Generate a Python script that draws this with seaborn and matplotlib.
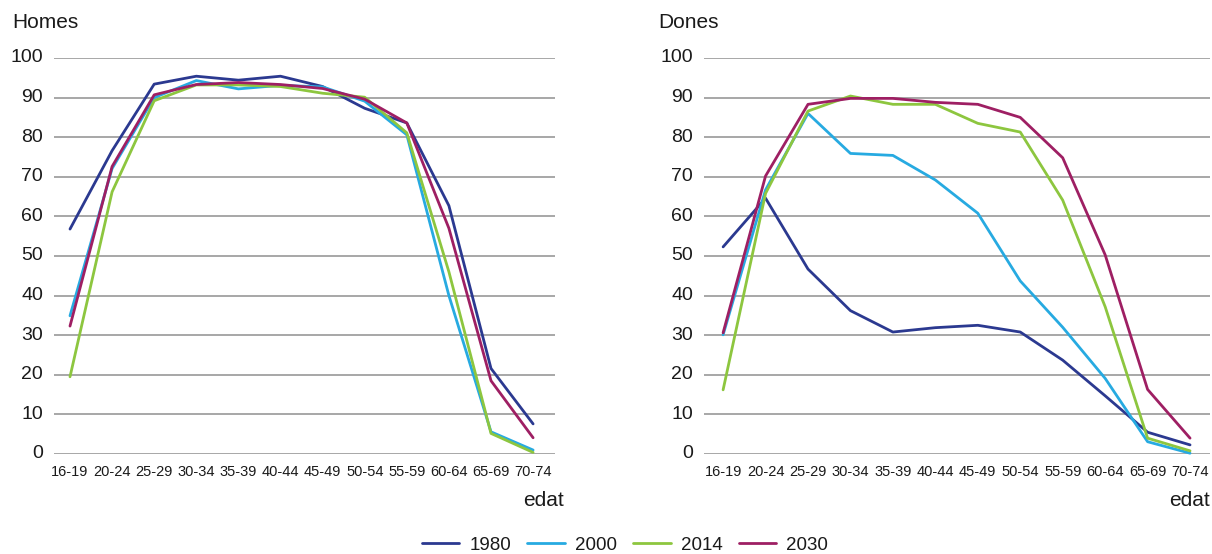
import pandas as pd
import numpy as np
import matplotlib
matplotlib.use('Agg')
import matplotlib.pyplot as plt
import seaborn as sns
from matplotlib.lines import Line2D
from matplotlib.transforms import ScaledTranslation

# ===================== 数据 =====================
edats = ['16-19', '20-24', '25-29', '30-34', '35-39', '40-44',
         '45-49', '50-54', '55-59', '60-64', '65-69', '70-74']
anys = ['1980', '2000', '2014', '2030']

homes_1980 = [56.8, 76.6, 93.4, 95.4, 94.4, 95.4, 92.8, 87.3, 83.6, 62.7, 21.6, 7.6]
homes_2000 = [34.9, 72.1, 90.0, 94.3, 92.2, 93.1, 92.7, 89.1, 80.6, 40.0, 5.6, 1.0]
homes_2014 = [19.5, 66.2, 89.2, 93.2, 93.2, 92.8, 91.1, 90.1, 81.1, 46.0, 5.2, 0.4]
homes_2030 = [32.3, 72.6, 90.7, 93.3, 93.8, 93.3, 92.3, 89.6, 83.6, 57.0, 18.5, 4.1]

dones_1980 = [52.3, 64.6, 46.7, 36.2, 30.8, 31.9, 32.5, 30.8, 23.7, 14.7, 5.5, 2.3]
dones_2000 = [30.1, 66.7, 86.0, 75.9, 75.4, 69.2, 60.8, 43.7, 32.0, 19.1, 3.1, 0.2]
dones_2014 = [16.2, 65.8, 86.6, 90.4, 88.3, 88.3, 83.5, 81.3, 64.1, 37.2, 4.0, 0.8]
dones_2030 = [30.6, 70.2, 88.3, 89.8, 89.8, 88.8, 88.3, 85.0, 74.8, 50.3, 16.3, 4.0]

colors = {'1980': '#2b3990', '2000': '#27aae1', '2014': '#8dc63f', '2030': '#9e1f63'}


def to_long(series):
    rows = []
    for any_, vals in zip(anys, series):
        for i, (e, v) in enumerate(zip(edats, vals)):
            rows.append({'pos': i, 'edat': e, 'any': any_, 'valor': v})
    return pd.DataFrame(rows)


df_homes = to_long([homes_1980, homes_2000, homes_2014, homes_2030])
df_dones = to_long([dones_1980, dones_2000, dones_2014, dones_2030])

# ===================== 样式 =====================
sns.set_theme(style='white')
plt.rcParams['font.family'] = ['Liberation Sans', 'DejaVu Sans']

fig = plt.figure(figsize=(12.12, 5.54), dpi=100)
ax_h = fig.add_axes([54 / 1212, 100 / 554, 501 / 1212, 396 / 554])
ax_d = fig.add_axes([704 / 1212, 100 / 554, 506 / 1212, 396 / 554])
txt = '#1a1a1a'


def draw_panel(ax, df, title, xlim, title_x):
    sns.lineplot(data=df, x='pos', y='valor', hue='any', hue_order=anys,
                 palette=colors, linewidth=2.0, legend=False, ax=ax, clip_on=False)
    ax.set_xlim(*xlim)
    ax.set_ylim(0, 100)
    ax.set_yticks(range(0, 101, 10))
    ax.set_xticks(range(len(edats)))
    ax.set_xticklabels(edats, fontsize=10.5)
    ax.tick_params(axis='y', labelsize=14, length=0, pad=8, colors=txt)
    ax.tick_params(axis='x', length=0, pad=8, colors=txt)
    # y 刻度文字略高于网格线
    up = ScaledTranslation(0, 2 / 100, fig.dpi_scale_trans)
    for lab in ax.get_yticklabels():
        lab.set_transform(lab.get_transform() + up)
    ax.yaxis.grid(True, color='#a0a0a0', linewidth=1.3)
    ax.xaxis.grid(False)
    ax.set_axisbelow(True)
    for s in ax.spines.values():
        s.set_visible(False)
    ax.set_xlabel('')
    ax.set_ylabel('')
    fig.text(title_x / 1212, 1 - 23 / 554, title, fontsize=15, va='center', ha='left', color=txt)


draw_panel(ax_h, df_homes, 'Homes', (-0.38, 11.52), 12)
draw_panel(ax_d, df_dones, 'Dones', (-0.45, 11.47), 658)

fig.text(543 / 1212, 1 - 500 / 554, 'edat', fontsize=15, ha='center', va='center', color=txt)
fig.text(1189 / 1212, 1 - 500 / 554, 'edat', fontsize=15, ha='center', va='center', color=txt)

handles = [Line2D([0], [0], color=colors[a], linewidth=2.0) for a in anys]
fig.legend(handles, anys, loc='center', bbox_to_anchor=(625 / 1212, 1 - 545 / 554),
           ncol=4, frameon=False, fontsize=13.5, handlelength=2.0, columnspacing=0.85,
           handletextpad=0.55, labelcolor=txt)

fig.savefig('out.png', dpi=100)
